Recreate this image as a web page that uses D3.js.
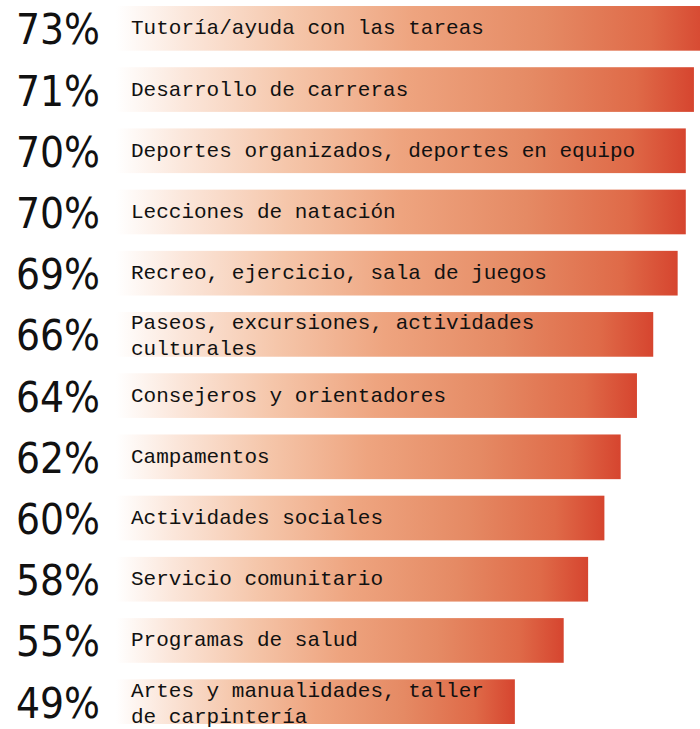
<!DOCTYPE html>
<html>
<head>
<meta charset="utf-8">
<script src="https://cdn.jsdelivr.net/npm/d3@7"></script>
<style>
  html, body { margin: 0; padding: 0; background: #fff; }
  .pct { font-family: "Liberation Sans Narrow", "DejaVu Sans Condensed", sans-serif; font-size: 42px; fill: #111; }
  .lbl { font-family: "Liberation Mono", "DejaVu Sans Mono", monospace; font-size: 21px; fill: #111; }
</style>
</head>
<body>
<div id="chart"></div>
<script>
// categories, top to bottom (long ones split into lines)
const categories = [
  ["Tutoría/ayuda con las tareas"],
  ["Desarrollo de carreras"],
  ["Deportes organizados, deportes en equipo"],
  ["Lecciones de natación"],
  ["Recreo, ejercicio, sala de juegos"],
  ["Paseos, excursiones, actividades", "culturales"],
  ["Consejeros y orientadores"],
  ["Campamentos"],
  ["Actividades sociales"],
  ["Servicio comunitario"],
  ["Programas de salud"],
  ["Artes y manualidades, taller", "de carpintería"]
];
const values = [73, 71, 70, 70, 69, 66, 64, 62, 60, 58, 55, 49];

const width = 700, height = 729;

const svg = d3.select("#chart").append("svg")
    .attr("width", width)
    .attr("height", height);

// gradient runs across each bar's own width
const grad = svg.append("defs").append("linearGradient")
    .attr("id", "barGrad")
    .attr("x1", "0%").attr("x2", "100%")
    .attr("y1", "0%").attr("y2", "0%");
[[0, "#ffffff"], [0.12, "#fbe6da"], [0.3, "#f5c6aa"], [0.5, "#eea47f"], [0.72, "#e58a64"], [0.9, "#df6a48"], [1, "#d6452f"]]
  .forEach(([o, c]) => grad.append("stop").attr("offset", o).attr("stop-color", c));

const idx = d3.range(values.length);

const x = d3.scaleLinear().domain([0, 100]).range([116, 930]);
const y = d3.scaleBand().domain(idx).range([6, 724]).paddingInner(0.27).paddingOuter(0);

const row = svg.selectAll(".row")
    .data(idx)
    .enter().append("g")
    .attr("class", "row")
    .attr("transform", i => "translate(0," + y(i) + ")");

row.append("rect")
    .attr("x", x(0))
    .attr("y", 0)
    .attr("height", y.bandwidth())
    .attr("width", i => x(values[i]) - x(0))
    .attr("fill", "url(#barGrad)");

const mid = y.bandwidth() / 2;

// big percentages
row.append("text")
    .attr("class", "pct")
    .attr("x", 100)
    .attr("y", mid + 16)
    .attr("text-anchor", "end")
    .text(i => values[i] + "%");

// category labels
row.append("text")
    .attr("class", "lbl")
    .each(function(i) {
        const lines = categories[i];
        const t = d3.select(this);
        lines.forEach((line, k) => {
            const by = lines.length === 1 ? mid + 6 : mid - 5 + k * 26;
            t.append("tspan").attr("x", 131).attr("y", by).text(line);
        });
    });
</script>
</body>
</html>
